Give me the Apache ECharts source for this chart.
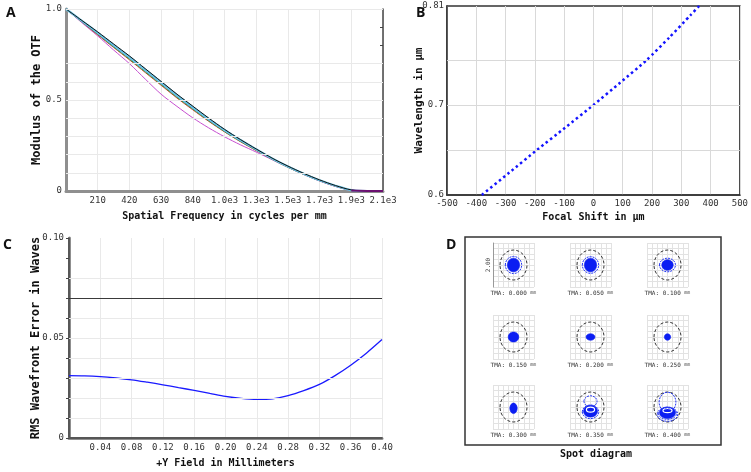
<!DOCTYPE html>
<html>
<head>
<meta charset="utf-8">
<title>Lens performance</title>
<script src="https://cdn.jsdelivr.net/npm/echarts@6/dist/echarts.min.js"></script>
<style>
  html, body { margin: 0; padding: 0; background: #fff; }
  #main { width: 751px; height: 472px; }
</style>
</head>
<body>
<div id="main"></div>
<script>
var mono = "'DejaVu Sans Mono', monospace";

// A - MTF
var mtfFreq = [0, 105, 210, 315, 420, 525, 630, 735, 840, 945, 1050, 1155, 1260, 1365, 1470, 1575, 1680, 1785, 1890, 1995, 2100];
var mtfTickLabels = ['', '210', '420', '630', '840', '1.0e3', '1.3e3', '1.5e3', '1.7e3', '1.9e3', '2.1e3'];
var mtfGridValues = [0.1, 0.2, 0.3, 0.4, 0.5, 0.6, 0.7, 1.0];
var mtfBlack  = [1, 0.937, 0.874, 0.808, 0.742, 0.672, 0.602, 0.532, 0.466, 0.401, 0.339, 0.283, 0.231, 0.181, 0.137, 0.097, 0.061, 0.030, 0.006, 0, 0];
var mtfCyan   = [1, 0.935, 0.870, 0.803, 0.737, 0.667, 0.597, 0.527, 0.461, 0.396, 0.335, 0.280, 0.229, 0.179, 0.135, 0.095, 0.059, 0.029, 0.005, 0, 0];
var mtfBlue   = [1, 0.932, 0.865, 0.797, 0.731, 0.661, 0.591, 0.521, 0.455, 0.391, 0.331, 0.277, 0.227, 0.177, 0.133, 0.093, 0.058, 0.028, 0.005, 0, 0];
var mtfGreen  = [1, 0.930, 0.861, 0.792, 0.725, 0.655, 0.585, 0.515, 0.450, 0.386, 0.327, 0.273, 0.224, 0.175, 0.131, 0.092, 0.057, 0.027, 0.004, 0, 0];
var mtfRed    = [1, 0.929, 0.858, 0.789, 0.721, 0.651, 0.581, 0.511, 0.446, 0.383, 0.325, 0.271, 0.222, 0.174, 0.130, 0.091, 0.056, 0.026, 0.004, 0, 0];
var mtfPurple = [1, 0.925, 0.852, 0.775, 0.700, 0.615, 0.532, 0.465, 0.402, 0.347, 0.298, 0.254, 0.214, 0.172, 0.131, 0.091, 0.055, 0.025, 0.003, 0, 0];

// B - chromatic focal shift
var wavelength = [0.6, 0.625, 0.65, 0.675, 0.7, 0.725, 0.75, 0.775, 0.8, 0.81];
var focalShift = [-381, -287, -193, -96, 0, 92, 182, 259, 332, 361];
var shiftGridValues = [0.65, 0.7, 0.75];

// C - RMS wavefront error vs field
var fieldY = [0, 0.02, 0.04, 0.06, 0.08, 0.10, 0.12, 0.14, 0.16, 0.18, 0.20, 0.22, 0.24, 0.26, 0.28, 0.30, 0.32, 0.34, 0.36, 0.38, 0.40];
var rmsWfe = [0.0312, 0.0311, 0.0307, 0.0300, 0.0291, 0.0279, 0.0266, 0.0252, 0.0238, 0.0223, 0.0208, 0.0198, 0.0193, 0.0196, 0.0212, 0.0237, 0.0268, 0.0312, 0.0364, 0.0424, 0.0492];
var rmsGridValues = [0.01, 0.02, 0.03, 0.04, 0.05, 0.06, 0.07, 0.08];
var diffractionLimit = 0.072;

// D - spot diagram: [cx, cy, rx, ry, kind]  kind 0 airy, 1 filled spot, 2 ring, 3 gap
var spotFields = ['0.000', '0.050', '0.100', '0.150', '0.200', '0.250', '0.300', '0.350', '0.400'];
var airyDisk = [0, 0, 0.66, 0.68, 0];
var spotCells = [
  [[0, 0, 0.30, 0.31, 1], [0, 0, 0.40, 0.39, 2]],
  [[0, 0, 0.30, 0.31, 1], [0, 0, 0.40, 0.38, 2]],
  [[0, 0, 0.28, 0.24, 1], [0, 0, 0.39, 0.31, 2]],
  [[0, 0, 0.26, 0.23, 1]],
  [[0, 0, 0.22, 0.15, 1]],
  [[0, 0, 0.155, 0.15, 1]],
  [[0, -0.06, 0.18, 0.24, 1]],
  [[0, 0.26, 0.32, 0.25, 2], [0, -0.19, 0.34, 0.27, 1], [0, -0.12, 0.2, 0.11, 3], [0, -0.22, 0.40, 0.31, 2]],
  [[0, 0.22, 0.41, 0.45, 2], [0, -0.26, 0.39, 0.26, 1], [0, -0.16, 0.22, 0.1, 3], [0, -0.33, 0.50, 0.32, 2], [0, -0.30, 0.44, 0.26, 2]]
];

function xy(xs, ys) {
  return xs.map(function (x, i) { return [x, ys[i]]; });
}

function hLines(values, color) {
  return {
    silent: true,
    symbol: ['none', 'none'],
    label: { show: false },
    emphasis: { disabled: true },
    lineStyle: { color: color, width: 1, type: 'solid' },
    data: values.map(function (v) { return { yAxis: v }; })
  };
}

var tickFont = { fontFamily: mono, fontSize: 9, color: '#333' };
var nameFont = { fontFamily: mono, fontSize: 10, fontWeight: 'bold', color: '#111' };
var letterFont = { fontFamily: "'Open Sans', 'Liberation Sans', sans-serif", fontSize: 14, fontWeight: 'bold', color: '#111' };
var gray = '#8f8f8f';
var dark = '#444';
var light = '#e9e9e9';

var chart = echarts.init(document.getElementById('main'));

var grids = [
  { left: 66, top: 9, width: 317, height: 182 },
  { left: 447, top: 6, width: 293, height: 189, show: true, borderColor: '#333', borderWidth: 1.5 },
  { left: 69, top: 238, width: 313, height: 200 }
];
var xAxes = [
  {
    gridIndex: 0, type: 'value', min: 0, max: 2100, interval: 210,
    axisLine: { lineStyle: { color: gray, width: 3 } },
    axisTick: { show: false },
    axisLabel: Object.assign({ margin: 5, formatter: function (v) { return mtfTickLabels[Math.round(v / 210)]; } }, tickFont),
    splitLine: { lineStyle: { color: light } },
    name: 'Spatial Frequency in cycles per mm', nameLocation: 'middle', nameGap: 20, nameTextStyle: nameFont
  },
  {
    gridIndex: 1, type: 'value', min: -500, max: 500, interval: 100,
    axisLine: { onZero: false, lineStyle: { color: '#333', width: 1.5 } },
    axisTick: { show: false },
    axisLabel: Object.assign({ margin: 4 }, tickFont),
    splitLine: { lineStyle: { color: '#d9d9d9' } },
    name: 'Focal Shift in \u00b5m', nameLocation: 'middle', nameGap: 17, nameTextStyle: nameFont
  },
  {
    gridIndex: 2, type: 'value', min: 0, max: 0.4, interval: 0.04,
    axisLine: { lineStyle: { color: gray, width: 3 } },
    axisTick: { show: false },
    axisLabel: Object.assign({ margin: 5, formatter: function (v) { return v === 0 ? '' : v.toFixed(2); } }, tickFont),
    splitLine: { lineStyle: { color: light } },
    name: '+Y Field in Millimeters', nameLocation: 'middle', nameGap: 20, nameTextStyle: nameFont
  },
  {
    gridIndex: 2, type: 'value', position: 'top', min: 0, max: 0.4,
    axisLine: { lineStyle: { color: dark, width: 1.5 } },
    axisTick: { show: false }, axisLabel: { show: false }, splitLine: { show: false }
  }
];
var yAxes = [
  {
    gridIndex: 0, type: 'value', min: 0, max: 1, interval: 0.5,
    axisLine: { show: true, lineStyle: { color: gray, width: 3 } },
    axisTick: { show: false },
    axisLabel: Object.assign({ margin: 4, formatter: function (v) { return v === 0 ? '0' : v.toFixed(1); } }, tickFont),
    splitLine: { show: false },
    name: 'Modulus of the OTF', nameLocation: 'middle', nameGap: 23, nameRotate: 90, nameMoveOverlap: false,
    nameTextStyle: Object.assign({}, nameFont, { fontSize: 12 })
  },
  {
    gridIndex: 0, type: 'value', position: 'right', min: 0, max: 1, interval: 0.1,
    axisLine: { show: true, lineStyle: { color: dark, width: 1.5 } },
    axisTick: { show: true, inside: true, length: 3, lineStyle: { color: dark } },
    axisLabel: { show: false }, splitLine: { show: false }
  },
  {
    gridIndex: 1, type: 'value', min: 0.6, max: 0.81, interval: 0.05,
    axisLine: { show: true, onZero: false, lineStyle: { color: '#333', width: 1.5 } },
    axisTick: { show: false },
    axisLabel: Object.assign({ margin: 3, formatter: function (v) {
      var r = Math.round(v * 100) / 100;
      if (r === 0.6) return '0.6';
      if (r === 0.7) return '0.7';
      if (r === 0.81) return '0.81';
      return '';
    } }, tickFont),
    splitLine: { show: false },
    name: 'Wavelength in \u00b5m', nameLocation: 'middle', nameGap: 22, nameRotate: 90, nameMoveOverlap: false,
    nameTextStyle: Object.assign({}, nameFont, { fontSize: 11 })
  },
  {
    gridIndex: 2, type: 'value', min: 0, max: 0.1, interval: 0.05,
    axisLine: { show: true, lineStyle: { color: gray, width: 3 } },
    axisTick: { show: false },
    axisLabel: Object.assign({ margin: 5, formatter: function (v) { return v === 0 ? '0' : v.toFixed(2); } }, tickFont),
    splitLine: { show: false },
    name: 'RMS Wavefront Error in Waves', nameLocation: 'middle', nameGap: 27, nameRotate: 90, nameMoveOverlap: false,
    nameTextStyle: Object.assign({}, nameFont, { fontSize: 12 })
  },
  {
    gridIndex: 2, type: 'value', position: 'right', min: 0, max: 0.1, interval: 0.01,
    axisLine: { show: true, lineStyle: { color: dark, width: 1.5 } },
    axisTick: { show: true, inside: true, length: 3, lineStyle: { color: dark } },
    axisLabel: { show: false }, splitLine: { show: false }
  }
];

function lineSeries(xi, yi, data, color, width, extra) {
  return Object.assign({
    type: 'line', xAxisIndex: xi, yAxisIndex: yi, data: data,
    showSymbol: false, symbol: 'none', smooth: 0.3, silent: true,
    lineStyle: { color: color, width: width }
  }, extra || {});
}

var series = [
  lineSeries(0, 0, xy(mtfFreq, mtfPurple), '#c64fd0', 1, { markLine: hLines(mtfGridValues, light) }),
  lineSeries(0, 0, xy(mtfFreq, mtfRed), '#d83030', 1),
  lineSeries(0, 0, xy(mtfFreq, mtfGreen), '#2fae3a', 1),
  lineSeries(0, 0, xy(mtfFreq, mtfBlue), '#3050f0', 1),
  lineSeries(0, 0, xy(mtfFreq, mtfCyan), '#6cc6e6', 2.2),
  lineSeries(0, 0, xy(mtfFreq, mtfBlack), '#111', 1),
  lineSeries(0, 0, xy(mtfFreq.slice(18), mtfPurple.slice(18)), '#6b1070', 2, { smooth: false }),
  lineSeries(1, 2, xy(focalShift, wavelength), '#1414ff', 2.5, {
    smooth: 0.2,
    lineStyle: { color: '#1414ff', width: 2.5, type: [2.5, 3], cap: 'butt' },
    markLine: hLines(shiftGridValues, '#d9d9d9')
  }),
  lineSeries(2, 3, xy(fieldY, rmsWfe), '#1a1aff', 1.3, (function () {
    var ml = hLines(rmsGridValues, light);
    ml.data.push({ yAxis: diffractionLimit, lineStyle: { color: '#3a3a3a', width: 1, type: 'solid' } });
    return { markLine: ml };
  })())
];

// D cells
var cellLeft = [493, 570, 647];
var cellTop = [243, 315, 385];
function renderSpot(params, api) {
  var c = api.coord([api.value(0), api.value(1)]);
  var s = api.size([api.value(2), api.value(3)]);
  var kind = api.value(4);
  var style;
  if (kind === 0) style = { fill: 'none', stroke: '#333', lineWidth: 1, lineDash: [3, 2] };
  else if (kind === 1) style = { fill: '#0b1ef2', stroke: '#0b1ef2', lineWidth: 0.6 };
  else if (kind === 2) style = { fill: 'none', stroke: '#2436f5', lineWidth: 1, lineDash: [2, 1] };
  else style = { fill: 'none', stroke: '#fff', lineWidth: 1.2 };
  return { type: 'ellipse', shape: { cx: c[0], cy: c[1], rx: s[0], ry: s[1] }, style: style };
}
spotFields.forEach(function (f, i) {
  var g = grids.length;
  grids.push({ left: cellLeft[i % 3], top: cellTop[Math.floor(i / 3)], width: 41, height: 44 });
  var xi = xAxes.length, yi = yAxes.length;
  xAxes.push({
    gridIndex: g, type: 'value', min: -1, max: 1, interval: 0.25,
    axisLine: { show: false }, axisTick: { show: false }, axisLabel: { show: false },
    splitLine: { lineStyle: { color: '#e2e2e2' } },
    name: 'TMA: ' + f + ' {u|mm}', nameLocation: 'middle', nameGap: 3,
    nameTextStyle: { fontFamily: mono, fontSize: 6, color: '#333', rich: { u: { fontFamily: mono, fontSize: 5, color: '#555' } } }
  });
  yAxes.push({
    gridIndex: g, type: 'value', min: -1, max: 1, interval: 0.25,
    axisLine: { show: i === 0, onZero: false, lineStyle: { color: '#999', width: 1 } },
    axisTick: { show: false }, axisLabel: { show: false },
    splitLine: { lineStyle: { color: '#e2e2e2' } },
    name: i === 0 ? '2.00' : '', nameLocation: 'middle', nameGap: 2, nameRotate: 90, nameMoveOverlap: false,
    nameTextStyle: { fontFamily: mono, fontSize: 6, color: '#333' }
  });
  series.push({
    type: 'custom', xAxisIndex: xi, yAxisIndex: yi, silent: true, clip: false,
    encode: { x: 0, y: 1 },
    renderItem: renderSpot,
    data: [airyDisk].concat(spotCells[i])
  });
});

var option = {
  animation: false,
  backgroundColor: '#fff',
  title: [
    { text: 'A', left: 6, top: 6, padding: 0, textStyle: letterFont },
    { text: 'B', left: 416, top: 6, padding: 0, textStyle: letterFont },
    { text: 'C', left: 3, top: 238, padding: 0, textStyle: letterFont },
    { text: 'D', left: 446, top: 238, padding: 0, textStyle: letterFont },
    { text: 'Spot diagram', left: 596, top: 449, padding: 0, textAlign: 'center', textStyle: nameFont }
  ],
  graphic: [
    { type: 'rect', silent: true, shape: { x: 465, y: 237, width: 256, height: 208 }, style: { fill: 'none', stroke: '#333', lineWidth: 1.5 } }
  ],
  grid: grids,
  xAxis: xAxes,
  yAxis: yAxes,
  series: series
};

chart.setOption(option);
</script>
</body>
</html>
